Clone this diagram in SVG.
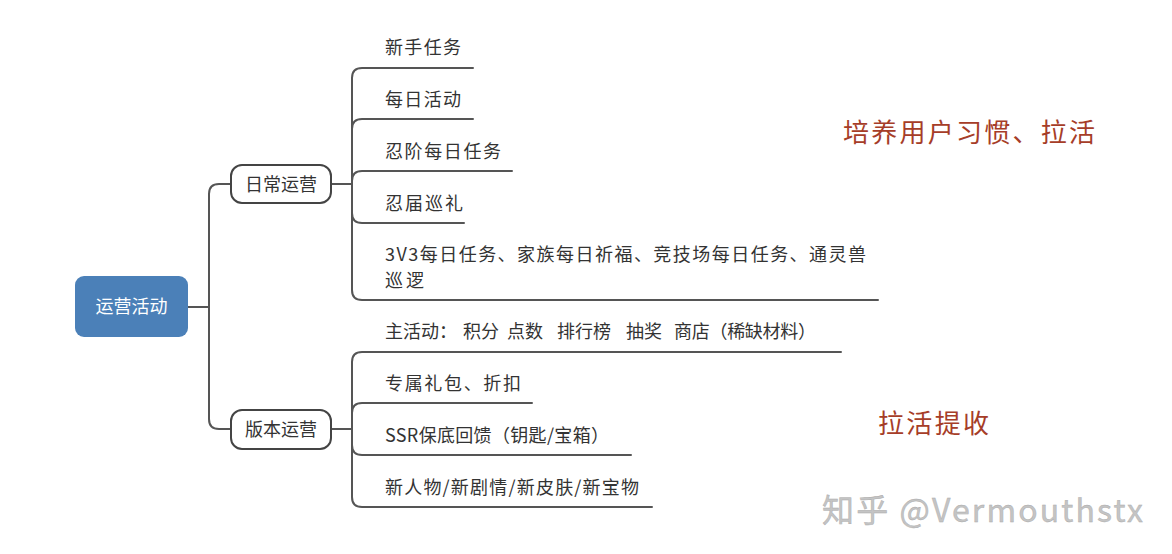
<svg xmlns="http://www.w3.org/2000/svg" width="1172" height="554" viewBox="0 0 1172 554">
<style>
text{font-family:"Noto Sans CJK SC","Noto Sans",sans-serif;}
.t{font-size:18px;fill:#333;}
.c{fill:none;stroke:#555;stroke-width:2;stroke-linecap:round;}
.box{fill:#fff;stroke:#444;stroke-width:2;}
.red{font-size:26px;fill:#a63d28;}
.wm{font-size:32px;fill:#c4c4c4;stroke:#aaa;stroke-width:0.4;}
</style>
<rect width="1172" height="554" fill="#fff"/>
<g id="connectors">
<path class="c" d="M188,307 H209"/>
<path class="c" d="M231,184 H219 Q209,184 209,194 V419 Q209,429 219,429 H231"/>
<path class="c" d="M331,184 H352"/>
<path class="c" d="M473,68 H362 Q352,68 352,78 V290 Q352,300 362,300 H878"/>
<path class="c" d="M352,129 Q352,119 362,119 H473"/>
<path class="c" d="M352,181 Q352,171 362,171 H512"/>
<path class="c" d="M352,213 Q352,223 362,223 H464"/>
<path class="c" d="M331,429 H352"/>
<path class="c" d="M841,352 H362 Q352,352 352,362 V497 Q352,507 362,507 H652"/>
<path class="c" d="M352,413 Q352,403 362,403 H532"/>
<path class="c" d="M352,445 Q352,455 362,455 H631"/>
</g>
<g id="root">
<rect x="75" y="276" width="113" height="61" rx="9" fill="#4b80b8"/>
<text x="131.5" y="313" text-anchor="middle" style="font-size:18px;fill:#fff">运营活动</text>
</g>
<g id="daily">
<rect class="box" x="231" y="165" width="100" height="38" rx="11"/>
<text class="t" x="281" y="191" text-anchor="middle">日常运营</text>
</g>
<g id="version">
<rect class="box" x="231" y="410" width="100" height="39" rx="11"/>
<text class="t" x="281" y="436" text-anchor="middle">版本运营</text>
</g>
<g id="d1"><text class="t" x="385" y="54" textLength="76">新手任务</text></g>
<g id="d2"><text class="t" x="385" y="106" textLength="76">每日活动</text></g>
<g id="d3"><text class="t" x="385" y="158" textLength="116">忍阶每日任务</text></g>
<g id="d4"><text class="t" x="385" y="210" textLength="78">忍届巡礼</text></g>
<g id="d5">
<text class="t" x="385" y="261" textLength="481">3V3每日任务、家族每日祈福、竞技场每日任务、通灵兽</text>
<text class="t" x="385" y="287" textLength="39">巡逻</text>
</g>
<g id="v1"><text class="t" y="338"><tspan x="385">主活动：</tspan><tspan x="463">积分</tspan><tspan x="507">点数</tspan><tspan x="557">排行榜</tspan><tspan x="626">抽奖</tspan><tspan x="674" textLength="142">商店（稀缺材料）</tspan></text></g>
<g id="v2"><text class="t" x="385" y="390" textLength="136">专属礼包、折扣</text></g>
<g id="v3"><text class="t" x="385" y="442" textLength="224">SSR保底回馈（钥匙/宝箱）</text></g>
<g id="v4"><text class="t" x="385" y="494" textLength="254">新人物/新剧情/新皮肤/新宝物</text></g>
<g id="note1"><text class="red" x="843" y="142" textLength="252">培养用户习惯、拉活</text></g>
<g id="note2"><text class="red" x="878" y="433" textLength="111">拉活提收</text></g>
<g id="watermark"><text class="wm" x="822" y="522" textLength="321">知乎 @Vermouthstx</text></g>
</svg>
